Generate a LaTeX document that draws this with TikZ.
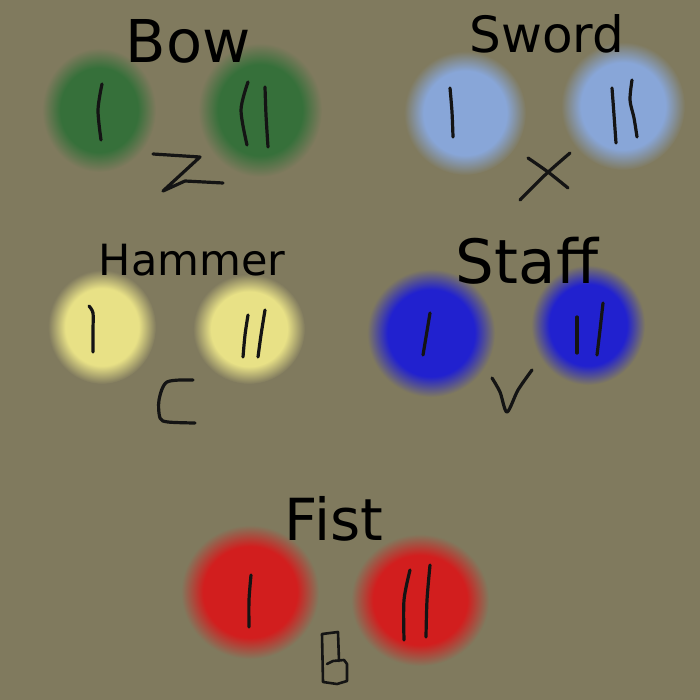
\documentclass[tikz,border=0pt]{standalone}
\usepackage{fontspec}
\setmainfont{DejaVu Sans}
\definecolor{bg}{RGB}{128,122,94}
\definecolor{cgreen}{RGB}{54,112,58}
\definecolor{clight}{RGB}{136,166,216}
\definecolor{cyellow}{RGB}{232,225,134}
\definecolor{cblue}{RGB}{33,33,207}
\definecolor{cred}{RGB}{210,30,30}
\pgfdeclareradialshading{glowgreen}{\pgfpointorigin}{color(0bp)=(cgreen);color(17bp)=(cgreen);color(25bp)=(bg);color(50bp)=(bg)}
\pgfdeclareradialshading{glowlight}{\pgfpointorigin}{color(0bp)=(clight);color(17bp)=(clight);color(25bp)=(bg);color(50bp)=(bg)}
\pgfdeclareradialshading{glowyellow}{\pgfpointorigin}{color(0bp)=(cyellow);color(17bp)=(cyellow);color(25bp)=(bg);color(50bp)=(bg)}
\pgfdeclareradialshading{glowblue}{\pgfpointorigin}{color(0bp)=(cblue);color(17bp)=(cblue);color(25bp)=(bg);color(50bp)=(bg)}
\pgfdeclareradialshading{glowred}{\pgfpointorigin}{color(0bp)=(cred);color(17bp)=(cred);color(25bp)=(bg);color(50bp)=(bg)}
\newcommand{\glowat}[5]{\shade[shading=#5] (#1,#2) ellipse [x radius=#3+9, y radius=#4+9];}
\tikzset{
  ink/.style={draw=black!92, line width=3.2pt, line cap=round, line join=round},
  title/.style={anchor=base, inner sep=0pt, text=black}
}
\begin{document}
\begin{tikzpicture}[x=1pt,y=-1pt]
\fill[bg] (0,0) rectangle (700,700);
\useasboundingbox (0,0) rectangle (700,700);
% glows
\glowat{99}{110}{48}{53}{glowgreen}
\glowat{260}{110}{53}{58}{glowgreen}
\glowat{465}{113}{52}{53}{glowlight}
\glowat{623}{106}{53}{55}{glowlight}
\glowat{102}{327}{45}{48}{glowyellow}
\glowat{249}{329}{47}{46}{glowyellow}
\glowat{431}{333}{55}{55}{glowblue}
\glowat{588}{325}{48}{51}{glowblue}
\glowat{250}{592}{60}{58}{glowred}
\glowat{420}{600}{60}{57}{glowred}
% titles
\node[title, font=\fontsize{59}{59}\selectfont] (bow) at (188,63) {Bow};
\node[title, font=\fontsize{50}{50}\selectfont] (sword) at (547,53) {Sword};
\node[title, font=\fontsize{43}{43}\selectfont] (hammer) at (192,275) {Hammer};
\node[title, font=\fontsize{61}{61}\selectfont] (staff) at (527,283) {Staff};
\node[title, font=\fontsize{58}{58}\selectfont] (fist) at (334,540) {Fist};
% Bow strokes
\draw[ink] plot[smooth] coordinates {(102,84) (98,110) (101,140)};
\draw[ink] plot[smooth] coordinates {(248,82) (241,110) (247,145)};
\draw[ink] plot[smooth] coordinates {(265,87) (266,115) (268,147)};
\draw[ink] (153,154) -- (200,157) -- (163,191) -- (185,181) -- (223,183);
% Sword strokes
\draw[ink] plot[smooth] coordinates {(450,88) (452,112) (453,137)};
\draw[ink] plot[smooth] coordinates {(612,88) (614,115) (616,143)};
\draw[ink] plot[smooth] coordinates {(632,80) (630,100) (634,118) (637,137)};
\draw[ink] plot[smooth] coordinates {(528,158) (548,172) (568,188)};
\draw[ink] plot[smooth] coordinates {(570,153) (545,175) (520,200)};
% Hammer strokes
\draw[ink] plot[smooth] coordinates {(89,306) (93,313) (93,330) (93,352)};
\draw[ink] plot[smooth] coordinates {(248,315) (245,335) (243,357)};
\draw[ink] plot[smooth] coordinates {(265,310) (261,335) (258,357)};
\draw[ink] plot[smooth] coordinates {(193,380) (167,382) (159,400) (160,418) (168,422) (195,423)};
% Staff strokes
\draw[ink] (430,313) -- (423,355);
\draw[ink] (577,317) -- (577,353);
\draw[ink] plot[smooth] coordinates {(603,303) (600,330) (597,355)};
\draw[ink] plot[smooth] coordinates {(492,378) (500,392) (507,412) (518,390) (532,370)};
% Fist strokes
\draw[ink] plot[smooth] coordinates {(251,575) (249,600) (249,627)};
\draw[ink] plot[smooth] coordinates {(410,570) (404,600) (404,640)};
\draw[ink] plot[smooth] coordinates {(430,565) (427,600) (426,637)};
\draw[ink, line width=2.6pt] (339,661) -- (338,632) -- (322,634) -- (323,682) -- (337,684) -- (347,681) -- (347,664) -- (344,660) -- (333,661) -- (327,664);
\end{tikzpicture}
\end{document}
